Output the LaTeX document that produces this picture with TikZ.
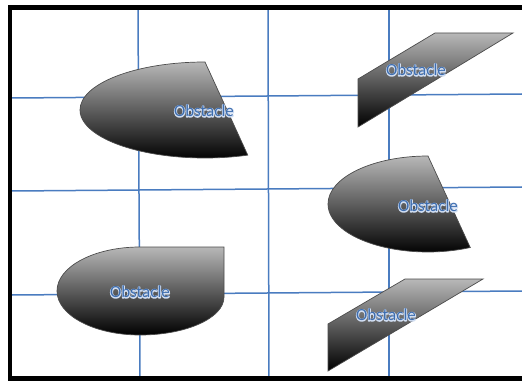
\documentclass[tikz,border=0pt]{standalone}
\usepackage{fontspec}
\setmainfont{Carlito}
\newcommand\glowtext[1]{\rlap{\special{pdf:code q 2 Tr 1.6 w 1 J 1 j 0.82 0.87 0.95 RG 0.82 0.87 0.95 rg}#1\special{pdf:code Q}}#1}
\begin{document}
\begin{tikzpicture}[x=1pt,y=-1pt,
  gridline/.style={draw={rgb,255:red,74;green,124;blue,192}, line width=1.5pt},
  frame/.style={draw=black, line width=4.5pt, line join=miter},
  obst/.style={draw=black!70, line width=0.7pt, top color=black!28, bottom color=black, shading angle=0},
  lbl/.style={text={rgb,255:red,62;green,110;blue,176}, font=\fontsize{17}{20}\selectfont, inner sep=0pt}]
\useasboundingbox (0,0) rectangle (522,382);
\fill[white] (0,0) rectangle (522,382);
% grid
\draw[gridline] (138,10) -- (140,378);
\draw[gridline] (268,10) -- (269,378);
\draw[gridline] (389,10) -- (389,378);
\draw[gridline] (12,98) -- (522,94);
\draw[gridline] (12,191) -- (522,187);
\draw[gridline] (12,295) -- (522,291);
% frame
\draw[frame] (522,7.5) -- (10,7.5) -- (10,378.5) -- (522,378.5);
% obstacles
\draw[obst] (205,62) arc[start angle=270, end angle=70, x radius=125, y radius=48] -- cycle;
\draw[obst] (358,79) -- (435,33) -- (513,33) -- (358,127) -- cycle;
\draw[obst] (428,156) arc[start angle=270, end angle=65, x radius=100, y radius=48] -- cycle;
\draw[obst] (140,247) -- (224,247) -- (224,297) arc[start angle=0, end angle=90, x radius=84, y radius=38] arc[start angle=90, end angle=270, x radius=83, y radius=44] -- cycle;
\draw[obst] (328,324) -- (405,279) -- (483,279) -- (328,371) -- cycle;
% labels
\node[lbl] (t1) at (204,111) {\glowtext{Obstacle}};
\node[lbl] (t2) at (416,70) {\glowtext{Obstacle}};
\node[lbl] (t3) at (428,206) {\glowtext{Obstacle}};
\node[lbl] (t4) at (140,292) {\glowtext{Obstacle}};
\node[lbl] (t5) at (386,315) {\glowtext{Obstacle}};
\end{tikzpicture}
\end{document}
